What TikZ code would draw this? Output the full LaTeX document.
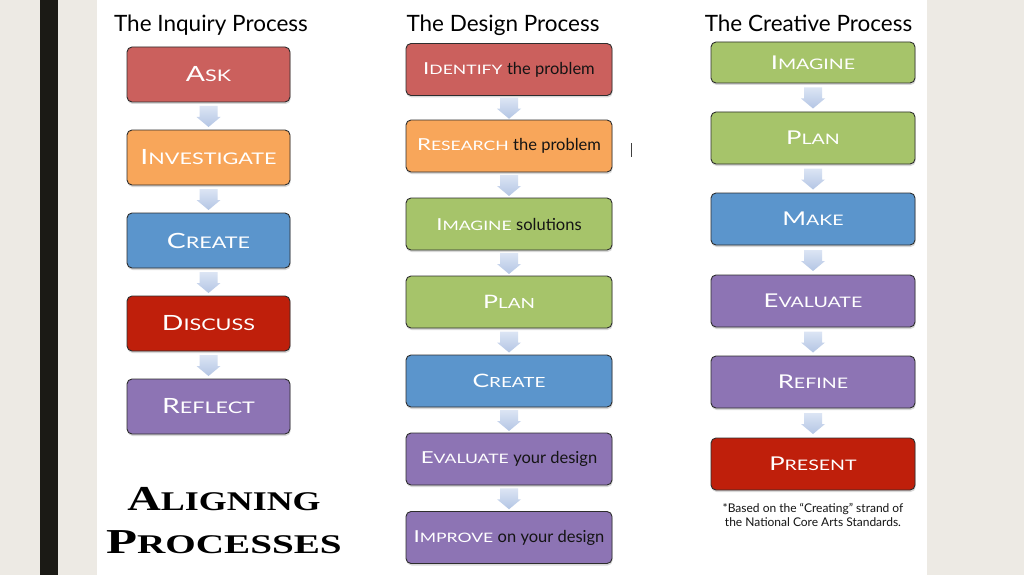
\documentclass[tikz,border=0pt]{standalone}
\usepackage{fontspec}
\setmainfont{Lato}
\newfontfamily\headfont{Liberation Serif}
\usetikzlibrary{shadows,calc}
\definecolor{bgbeige}{HTML}{EDEAE4}
\definecolor{barblack}{HTML}{1B1A15}
\definecolor{boxedge}{HTML}{2E2E2E}
\definecolor{cred}{HTML}{CB605D}
\definecolor{corange}{HTML}{F8A65A}
\definecolor{cblue}{HTML}{5B95CC}
\definecolor{cdark}{HTML}{BF1F0B}
\definecolor{cpurple}{HTML}{8D74B4}
\definecolor{cgreen}{HTML}{A6C46A}
\definecolor{txtdark}{HTML}{141414}
\definecolor{arrtop}{HTML}{DCE5F4}
\definecolor{arrbot}{HTML}{B3C5E4}
\newcommand\hsc[4]{{\fontsize{#1}{#1}\selectfont #3}{\fontsize{#2}{#2}\selectfont #4}}
\newcommand\fsc[4]{\scalebox{1.35}[1]{\hsc{#1}{#2}{#3}{#4}}}
\newcommand\lowtxt[2]{\hspace{4.5pt}{\color{txtdark}\fontsize{#1}{#1}\selectfont #2}}
\newcommand\flowarr[2]{%
  \coordinate (tmp) at ($(#1.south)!0.5!(#2.north)$);
  \path[arrowshade] (tmp) ++(-9,-10) -- ++(18,0) -- ++(0,11) -- ++(3,0) -- ++(-12,10) -- ++(-12,-10) -- ++(3,0) -- cycle;}
\tikzset{
  procbox/.style={draw=boxedge, line width=0.9pt, rounded corners=5pt, text=white,
    align=center, inner sep=0pt,
    drop shadow={shadow xshift=0.6pt, shadow yshift=-2pt, opacity=0.3}},
  inq/.style={procbox, minimum width=163pt, minimum height=55pt},
  des/.style={procbox, minimum width=206pt, minimum height=52pt},
  cre/.style={procbox, minimum width=204pt, minimum height=52pt},
  arrowshade/.style={top color=arrtop, bottom color=arrbot, draw=none},
  coltitle/.style={anchor=base, font=\fontsize{22.5}{22.5}\selectfont, text=black},
}
\begin{document}
\begin{tikzpicture}[x=1pt,y=-1pt]
\useasboundingbox (0,0) rectangle (1024,575);
% background
\fill[bgbeige] (0,0) rectangle (1024,575);
\fill[white] (97,0) rectangle (927,575);
\fill[barblack] (40,0) rectangle (58,575);

% titles
\node[coltitle] (t1) at (211,32) {The Inquiry Process};
\node[coltitle] (t2) at (503,32) {The Design Process};
\node[coltitle] (t3) at (808.5,32) {The Creative Process};

% inquiry column
\node[inq, fill=cred]    (i1) at (208.5,74.5)  {\fsc{21}{16}{A}{SK}};
\node[inq, fill=corange] (i2) at (208.5,157.5) {\fsc{21}{16}{I}{NVESTIGATE}};
\node[inq, fill=cblue]   (i3) at (208.5,240.5) {\fsc{21}{16}{C}{REATE}};
\node[inq, fill=cdark]   (i4) at (208.5,323.5) {\fsc{21}{16}{D}{ISCUSS}};
\node[inq, fill=cpurple] (i5) at (208.5,406.5) {\fsc{21}{16}{R}{EFLECT}};

% design column
\node[des, fill=cred]    (d1) at (509,69.5) {\fsc{16.5}{13}{I}{DENTIFY}\lowtxt{16.5}{the problem}};
\node[des, fill=corange] (d2) at (509,146)  {\fsc{16.5}{13}{R}{ESEARCH}\lowtxt{16.5}{the problem}};
\node[des, fill=cgreen]  (d3) at (509,224)  {\fsc{16.5}{13}{I}{MAGINE}\lowtxt{16.5}{solutions}};
\node[des, fill=cgreen]  (d4) at (509,302)  {\fsc{18.5}{14}{P}{LAN}};
\node[des, fill=cblue]   (d5) at (509,381)  {\fsc{18.5}{14}{C}{REATE}};
\node[des, fill=cpurple] (d6) at (509,459)  {\fsc{16.5}{13}{E}{VALUATE}\lowtxt{16.5}{your design}};
\node[des, fill=cpurple] (d7) at (509,537.5){\fsc{16.5}{13}{I}{MPROVE}\lowtxt{16.5}{on your design}};

% creative column
\node[cre, fill=cgreen, minimum height=41pt] (c1) at (813,62.5) {\fsc{19}{14.5}{I}{MAGINE}};
\node[cre, fill=cgreen]  (c2) at (813,138) {\fsc{19}{14.5}{P}{LAN}};
\node[cre, fill=cblue]   (c3) at (813,219) {\fsc{19}{14.5}{M}{AKE}};
\node[cre, fill=cpurple] (c4) at (813,301) {\fsc{19}{14.5}{E}{VALUATE}};
\node[cre, fill=cpurple] (c5) at (813,382) {\fsc{19}{14.5}{R}{EFINE}};
\node[cre, fill=cdark]   (c6) at (813,464) {\fsc{19}{14.5}{P}{RESENT}};

% arrows
\flowarr{i1}{i2}\flowarr{i2}{i3}\flowarr{i3}{i4}\flowarr{i4}{i5}
\flowarr{d1}{d2}\flowarr{d2}{d3}\flowarr{d3}{d4}\flowarr{d4}{d5}\flowarr{d5}{d6}\flowarr{d6}{d7}
\flowarr{c1}{c2}\flowarr{c2}{c3}\flowarr{c3}{c4}\flowarr{c4}{c5}\flowarr{c5}{c6}

% footnote
\node[anchor=center, align=center, font=\fontsize{12}{14.5}\selectfont, text=txtdark] (fn) at (813,515)
  {*Based on the “Creating” strand of\\the National Core Arts Standards.};

% heading
\node[anchor=base] (h1) at (224,510) {\scalebox{1.33}[1]{\headfont\bfseries\hsc{35}{27}{A}{LIGNING}}};
\node[anchor=base] (h2) at (224,553) {\scalebox{1.45}[1]{\headfont\bfseries\hsc{35}{27}{P}{ROCESSES}}};

% text cursor
\draw[line width=1pt, black!75] (631,143) -- (631,157);
\end{tikzpicture}
\end{document}
